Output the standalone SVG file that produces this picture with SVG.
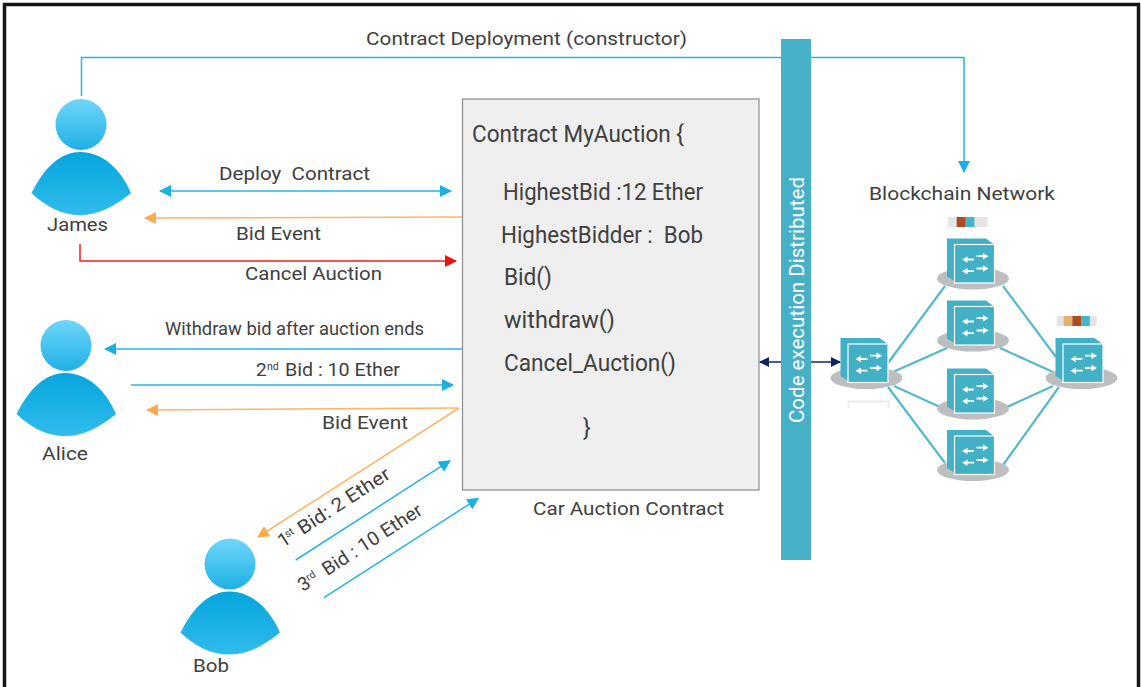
<svg xmlns="http://www.w3.org/2000/svg" width="1141" height="687" viewBox="0 0 1141 687">
<style>
text{font-family:"Roboto","Liberation Sans",sans-serif;fill:#404040;font-size:19px;white-space:pre}
.b{font-size:23px}
.s{font-size:10.500px}
.c{fill:none;stroke-width:1.500}
.blue{stroke:#25b4e4}.or{stroke:#ffb562}.red{stroke:#f01c1c}.navy{stroke:#12275f}
.lk{stroke:#55b9cc;stroke-width:2.200;fill:none}
.disc{fill:#bdbec0}
.wa{stroke:#fff;stroke-width:1.800;fill:none}
</style>
<defs>
<marker id="mb" markerUnits="userSpaceOnUse" markerWidth="14" markerHeight="14" refX="11" refY="6" orient="auto-start-reverse"><path d="M0 0L12 6L0 12z" fill="#1cb0e0"/></marker>
<marker id="mo" markerUnits="userSpaceOnUse" markerWidth="14" markerHeight="14" refX="11" refY="6" orient="auto-start-reverse"><path d="M0 0L12 6L0 12z" fill="#ffa94d"/></marker>
<marker id="mr" markerUnits="userSpaceOnUse" markerWidth="14" markerHeight="14" refX="11" refY="6" orient="auto-start-reverse"><path d="M0 0L12 6L0 12z" fill="#f01010"/></marker>
<marker id="mn" markerUnits="userSpaceOnUse" markerWidth="14" markerHeight="14" refX="9" refY="5" orient="auto-start-reverse"><path d="M0 0L10 5L0 10z" fill="#0f2460"/></marker>
<linearGradient id="hd" x1="0" y1="0" x2="0" y2="1"><stop offset="0" stop-color="#70d6fb"/><stop offset="1" stop-color="#1fb0e4"/></linearGradient>
<linearGradient id="bd" x1="0" y1="0" x2="0" y2="1"><stop offset="0" stop-color="#06a5dd"/><stop offset="1" stop-color="#2fbcec"/></linearGradient>
<g id="person">
<circle cx="81" cy="124.500" r="25.500" fill="url(#hd)"/>
<path d="M31.500 193C44 168 60 152 80 152C102 152 120 168 131 193C114 207 98 215 80 215C62 215 46 207 31.500 193z" fill="url(#bd)"/>
</g>
<g id="server">
<ellipse cx="0" cy="0" rx="36" ry="11" class="disc"/>
<path d="M-26 -40H13L21 -34V3H-18L-26 -2z" fill="#42b0c5"/>
<rect x="-18.500" y="-34" width="40" height="38.500" fill="#42b0c5" stroke="#fff" stroke-width="1.200"/>
<path class="wa" d="M3.500 -22.300H12M3.500 -10H12M1 -19H-7.500M1 -7.300H-7.500"/>
<path d="M15.500 -22.300L10 -25.500V-19.100zM15.500 -10L10 -13.200V-6.800zM-11 -19L-5.500 -22.200V-15.800zM-11 -7.300L-5.500 -10.500V-4.100z" fill="#fff"/>
</g>
</defs>
<rect width="1141" height="687" fill="#fff"/>
<path d="M4.500 687V4.500H1138.500V687" fill="none" stroke="#161616" stroke-width="3.500"/>

<g id="connectors">
<path class="c blue" d="M81.500 96V57.500H964V172" marker-end="url(#mb)"/>
<path class="c blue" d="M160 191L451 191" marker-start="url(#mb)" marker-end="url(#mb)"/>
<path class="c or" d="M462 217L145 218" marker-end="url(#mo)"/>
<path class="c red" d="M80 244V261H456" marker-end="url(#mr)"/>
<path class="c blue" d="M462 349H105" marker-end="url(#mb)"/>
<path class="c blue" d="M131 385H453" marker-end="url(#mb)"/>
<path class="c or" d="M459 408L147 410" marker-end="url(#mo)"/>
<path class="c or" d="M459 408L258 537" marker-end="url(#mo)"/>
<path class="c blue" d="M295.700 560L450 460.700" marker-end="url(#mb)"/>
<path class="c blue" d="M324 597.700L478.300 498.300" marker-end="url(#mb)"/>
<path class="c navy" d="M760 362H840" marker-start="url(#mn)" marker-end="url(#mn)"/>
<path class="lk" d="M888 363L945 286M893 372L947 348M894 386L940 407M888 387L945 463M1003 286L1056 357M1000 348L1053 372M1007 407L1053 386M1003 465L1059 387"/>
</g>

<g id="bar">
<rect x="781" y="39" width="30" height="521" fill="#46b1c6"/>
<text transform="translate(803.500,423) rotate(-90)" textLength="246" lengthAdjust="spacingAndGlyphs" style="fill:#fff;font-size:19.500px">Code execution Distributed</text>
</g>

<g id="james"><use href="#person"/><text x="47" y="231" textLength="61" lengthAdjust="spacingAndGlyphs">James</text></g>
<g id="alice"><use href="#person" x="-15" y="221"/><text x="42" y="460" textLength="46" lengthAdjust="spacingAndGlyphs">Alice</text></g>
<g id="bob"><use href="#person" x="149" y="439.500"/><text x="193" y="672" textLength="36" lengthAdjust="spacingAndGlyphs">Bob</text></g>

<g id="contract">
<rect x="462.500" y="99" width="296.500" height="391" fill="#efefef" stroke="#8c8c8c" stroke-width="1.200"/>
<text class="b" x="472" y="142" textLength="212" lengthAdjust="spacingAndGlyphs">Contract MyAuction {</text>
<text class="b" x="503" y="200" textLength="200" lengthAdjust="spacingAndGlyphs">HighestBid :12 Ether</text>
<text class="b" x="501" y="243" textLength="202" lengthAdjust="spacingAndGlyphs">HighestBidder :  Bob</text>
<text class="b" x="504" y="285" textLength="48" lengthAdjust="spacingAndGlyphs">Bid()</text>
<text class="b" x="504" y="328" textLength="111" lengthAdjust="spacingAndGlyphs">withdraw()</text>
<text class="b" x="504" y="371" textLength="172" lengthAdjust="spacingAndGlyphs">Cancel_Auction()</text>
<text class="b" x="583" y="436">}</text>
</g>

<g id="labels">
<text x="366" y="45" textLength="321" lengthAdjust="spacingAndGlyphs">Contract Deployment (constructor)</text>
<text x="219" y="180" textLength="151" lengthAdjust="spacingAndGlyphs">Deploy  Contract</text>
<text x="236" y="240" textLength="85" lengthAdjust="spacingAndGlyphs">Bid Event</text>
<text x="245" y="280" textLength="137" lengthAdjust="spacingAndGlyphs">Cancel Auction</text>
<text x="165" y="335" style="font-size:17.500px" textLength="259" lengthAdjust="spacingAndGlyphs">Withdraw bid after auction ends</text>
<text x="256" y="376">2</text><text class="s" x="267" y="370">nd</text><text x="285" y="376" textLength="115" lengthAdjust="spacingAndGlyphs">Bid : 10 Ether</text>
<text x="322" y="429" textLength="86" lengthAdjust="spacingAndGlyphs">Bid Event</text>
<text x="533" y="515" textLength="191" lengthAdjust="spacingAndGlyphs">Car Auction Contract</text>
<text x="869" y="200" textLength="186" lengthAdjust="spacingAndGlyphs">Blockchain Network</text>
<g transform="translate(283,548) rotate(-33)"><text>1</text><text class="s" x="9" y="-6">st</text><text x="23.500" textLength="106" lengthAdjust="spacingAndGlyphs">Bid: 2 Ether</text></g>
<g transform="translate(303,592) rotate(-33)"><text>3</text><text class="s" x="10.500" y="-6">rd</text><text x="29" textLength="115" lengthAdjust="spacingAndGlyphs">Bid : 10 Ether</text></g>
</g>

<g id="node-left"><use href="#server" x="866.500" y="378"/></g>
<g id="node-a"><use href="#server" x="973" y="278.500"/></g>
<g id="node-b"><use href="#server" x="973" y="340.500"/></g>
<g id="node-c"><use href="#server" x="973" y="408.500"/></g>
<g id="node-d"><use href="#server" x="973" y="470"/></g>
<g id="node-right"><use href="#server" x="1081.500" y="378"/></g>

<g id="tokens">
<rect x="947.700" y="217" width="40" height="10" fill="#e3e5e7"/>
<rect x="956.700" y="217" width="9" height="10" fill="#b04a20"/>
<rect x="965.700" y="217" width="8.700" height="10" fill="#45b3c9"/>
<rect x="1056.700" y="316" width="40" height="10" fill="#e3e5e7"/>
<rect x="1063.700" y="316" width="8.700" height="10" fill="#e3b06f"/>
<rect x="1072.400" y="316" width="8.700" height="10" fill="#b04a20"/>
<rect x="1081.100" y="316" width="8.700" height="10" fill="#45b3c9"/>
<path d="M848.500 408V401.500H888.500V408" fill="none" stroke="#ececec" stroke-width="2"/>
</g>
</svg>
